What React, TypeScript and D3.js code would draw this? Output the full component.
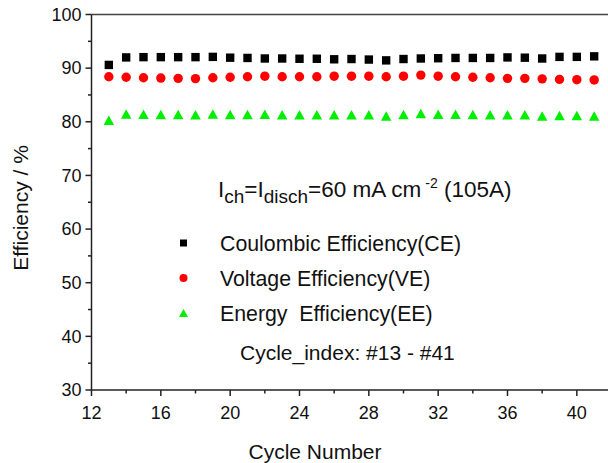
import React from "react";
import * as d3 from "d3";

const cycles = [13,14,15,16,17,18,19,20,21,22,23,24,25,26,27,28,29,30,31,32,33,34,35,36,37,38,39,40,41];
const ceValues = [90.6,92.0,92.05,92.05,92.05,92.05,92.1,91.95,91.9,91.8,91.8,91.75,91.75,91.65,91.7,91.6,91.45,91.7,91.8,91.85,91.9,91.9,91.9,92.0,91.95,91.8,92.1,92.1,92.2];
const veValues = [88.4,88.3,88.2,88.15,88.1,88.05,88.2,88.3,88.4,88.5,88.4,88.4,88.4,88.5,88.5,88.5,88.4,88.5,88.7,88.5,88.4,88.3,88.2,88.1,88.1,88.0,87.9,87.85,87.8];
const eeValues = [80.3,81.45,81.4,81.35,81.35,81.3,81.45,81.35,81.35,81.4,81.3,81.3,81.3,81.3,81.3,81.3,81.1,81.35,81.55,81.4,81.4,81.35,81.3,81.3,81.3,81.1,81.15,81.15,81.1];

const xMajorTicks = [12,16,20,24,28,32,36,40];
const xMinorTicks = [14,18,22,26,30,34,38];
const yMajorTicks = [30,40,50,60,70,80,90,100];
const yMinorTicks = [35,45,55,65,75,85,95];

const legendLabels = ["Coulombic Efficiency(CE)", "Voltage Efficiency(VE)", "Energy  Efficiency(EE)"];

const FONT = "'Liberation Sans', Arial, sans-serif";

export default function App() {
  const W = 608, H = 463;
  const x = d3.scaleLinear().domain([12, 42]).range([91.5, 611.5]);
  const y = d3.scaleLinear().domain([30, 100]).range([390, 14.5]);
  const axisColor = "#222";

  const tri = (cx: number, cy: number, w: number, h: number) =>
    `M${cx},${cy - h / 2}L${cx + w / 2},${cy + h / 2}L${cx - w / 2},${cy + h / 2}Z`;

  const legendY = [243, 278, 313];

  return (
    <svg width={W} height={H} style={{ position: "absolute", left: 0, top: 0, background: "#fff" }} fontFamily={FONT}>
      <rect x={0} y={0} width={W} height={H} fill="#fff" />
      {/* frame */}
      <line x1={x(12)} x2={W} y1={y(100)} y2={y(100)} stroke="#444" strokeWidth={1.5} />
      <line x1={x(12)} x2={x(12)} y1={y(100)} y2={y(30)} stroke={axisColor} strokeWidth={1.5} />
      <line x1={x(12)} x2={W} y1={y(30)} y2={y(30)} stroke={axisColor} strokeWidth={1.5} />
      {/* y ticks */}
      {yMajorTicks.map((t) => (
        <g key={"ym" + t}>
          <line x1={x(12) - 6} x2={x(12)} y1={y(t)} y2={y(t)} stroke={axisColor} strokeWidth={1.5} />
          <text x={x(12) - 10} y={y(t)} dy="0.35em" textAnchor="end" fontSize={18} fill="#111">{t}</text>
        </g>
      ))}
      {yMinorTicks.map((t) => (
        <line key={"yn" + t} x1={x(12) - 3.5} x2={x(12)} y1={y(t)} y2={y(t)} stroke={axisColor} strokeWidth={1.5} />
      ))}
      {/* x ticks */}
      {xMajorTicks.map((t) => (
        <g key={"xm" + t}>
          <line x1={x(t)} x2={x(t)} y1={y(30)} y2={y(30) + 6} stroke={axisColor} strokeWidth={1.5} />
          <text x={x(t)} y={y(30) + 29} textAnchor="middle" fontSize={18} fill="#111">{t}</text>
        </g>
      ))}
      {xMinorTicks.map((t) => (
        <line key={"xn" + t} x1={x(t)} x2={x(t)} y1={y(30)} y2={y(30) + 3.5} stroke={axisColor} strokeWidth={1.5} />
      ))}
      {/* axis titles */}
      <text x={315} y={459} textAnchor="middle" fontSize={21} fill="#111">Cycle Number</text>
      <text transform={`translate(28,208) rotate(-90)`} textAnchor="middle" fontSize={21} fill="#111">Efficiency / %</text>
      {/* data */}
      {cycles.map((c, i) => (
        <rect key={"ce" + c} x={x(c) - 4.2} y={y(ceValues[i]) - 4.2} width={8.4} height={8.4} fill="#000" />
      ))}
      {cycles.map((c, i) => (
        <circle key={"ve" + c} cx={x(c)} cy={y(veValues[i])} r={4.7} fill="#ff0000" />
      ))}
      {cycles.map((c, i) => (
        <path key={"ee" + c} d={tri(x(c), y(eeValues[i]), 10.5, 9.5)} fill="#00ee00" />
      ))}
      {/* annotation */}
      <text x={218} y={197} fontSize={22.5} fill="#111">
        <tspan>I</tspan>
        <tspan fontSize={19} dy={6}>ch</tspan>
        <tspan dy={-6}>=I</tspan>
        <tspan fontSize={19} dy={6}>disch</tspan>
        <tspan dy={-6}>=60 mA cm</tspan>
        <tspan fontSize={14} dy={-9} dx={4}>-2</tspan>
        <tspan dy={9}> (105A)</tspan>
      </text>
      {/* legend */}
      <rect x={180} y={legendY[0] - 3.5} width={7} height={7} fill="#000" />
      <circle cx={183.5} cy={legendY[1]} r={4} fill="#ff0000" />
      <path d={tri(183.5, legendY[2], 9, 8)} fill="#00ee00" />
      {legendLabels.map((l, i) => (
        <text key={l} x={220} y={legendY[i] + 7.5} fontSize={21.3} fill="#111" style={{ whiteSpace: "pre" }}>{l}</text>
      ))}
      <text x={240} y={360} fontSize={21} fill="#111">Cycle_index: #13 - #41</text>
    </svg>
  );
}
